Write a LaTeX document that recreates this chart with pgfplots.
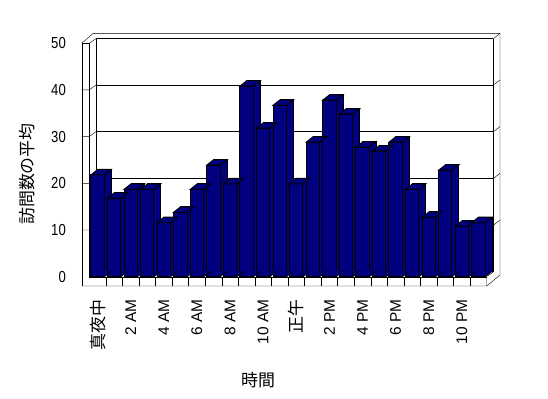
\documentclass[border=0pt]{standalone}
\usepackage{fontspec}
\setmainfont{Liberation Sans}
\newfontfamily\cjk{Noto Sans CJK JP}
\newfontfamily\narrowfont[FakeStretch=0.82]{Liberation Sans}
\usepackage{pgfplots}
\usepackage{pgfplotstable}
\pgfplotsset{compat=1.18}
\definecolor{barnavy}{RGB}{0,0,128}
\pgfdeclarelayer{background}
\pgfsetlayers{background,main}

% top face of a 3D column (drawn at the data point)
\pgfdeclareplotmark{topface}{%
  \pgfpathmoveto{\pgfpoint{-6.65bp}{0bp}}%
  \pgfpathlineto{\pgfpoint{6.65bp}{0bp}}%
  \pgfpathlineto{\pgfpoint{13.65bp}{5.5bp}}%
  \pgfpathlineto{\pgfpoint{0.35bp}{5.5bp}}%
  \pgfpathclose
  \pgfusepathqfillstroke
}
% lower part of the side face (drawn at the foot of the column)
\pgfdeclareplotmark{botface}{%
  \pgfpathmoveto{\pgfpoint{6.65bp}{0bp}}%
  \pgfpathlineto{\pgfpoint{6.65bp}{5.5bp}}%
  \pgfpathlineto{\pgfpoint{13.65bp}{5.5bp}}%
  \pgfpathclose
  \pgfusepathqfill
  \pgfpathmoveto{\pgfpoint{6.65bp}{0bp}}%
  \pgfpathlineto{\pgfpoint{13.65bp}{5.5bp}}%
  \pgfusepathqstroke
}

\pgfplotstableread{
x v z
0 21.8 0
1 16.8 0
2 18.7 0
3 18.7 0
4 11.6 0
5 13.8 0
6 18.7 0
7 23.9 0
8 19.9 0
9 40.8 0
10 31.8 0
11 36.7 0
12 19.9 0
13 28.8 0
14 37.8 0
15 34.8 0
16 27.7 0
17 26.9 0
18 28.8 0
19 18.7 0
20 12.7 0
21 22.8 0
22 10.8 0
23 11.6 0
}\datatable

\begin{document}
\begin{tikzpicture}[line width=1bp]
\begin{axis}[
  scale only axis, width=397.4bp, height=233.5bp,
  xmin=-0.5, xmax=23.5, ymin=0, ymax=50,
  clip=false,
  axis line style={draw=none},
  major tick length=0pt,
  ytick={0,10,20,30,40,50},
  xtick={0,2,...,22},
  xticklabels={{\cjk\fontsize{17}{18}\selectfont 真夜中},2 AM,4 AM,6 AM,8 AM,10 AM,{\cjk\fontsize{17}{18}\selectfont 正午},2 PM,4 PM,6 PM,8 PM,10 PM},
  ymajorgrids,
  grid style={black, line width=1bp, xshift=6.4bp, yshift=4.8bp},
  /pgf/number format/assume math mode=true,
  yticklabel style={font=\narrowfont\fontsize{16}{17}\selectfont},
  yticklabel shift=20bp,
  xticklabel style={font=\fontsize{15.5}{16}\selectfont, rotate=90, anchor=east},
  xticklabel shift=19.5bp,
  xlabel={\cjk 時間}, ylabel={\cjk 訪問数の平均},
  label style={font=\fontsize{17}{18}\selectfont},
  xlabel style={at={(axis description cs:0.4245,-0.4424)}, anchor=center},
  ylabel style={at={(axis description cs:-0.1568,0.4398)}, anchor=center},
]
\coordinate (O) at (rel axis cs:0,0);
\addplot[ybar, bar width=13.3bp, bar shift=7bp, yshift=5.5bp, fill=barnavy, draw=black, line width=1bp] table[x=x,y=v] {\datatable};
\addplot[only marks, mark=topface, mark options={fill=barnavy, draw=black, line width=1bp}] table[x=x,y=v] {\datatable};
\addplot[only marks, mark=botface, mark options={fill=barnavy, draw=black, line width=1bp}] table[x=x,y=z] {\datatable};
\addplot[ybar, bar width=13.3bp, bar shift=0bp, fill=barnavy, draw=black, line width=1bp] table[x=x,y=v] {\datatable};
\end{axis}
\begin{pgfonlayer}{background}
\begin{scope}[shift={(O)}, x=1bp, y=1bp, shift={(-89.3,-121.3)}]
\fill[white] (0,0) rectangle (548,398);
% left wall and back wall frame
\draw (81.7,112) -- (81.7,354.7) -- (89.3,354.7) -- (89.3,121.3);
\draw (81.7,354.7) -- (93.3,364.7) -- (500,364.7) -- (500,123);
\draw (89.3,354.7) -- (95.7,359.2);
\draw (95.7,359.2) -- (95.7,126.1);
\draw (493.3,359.2) -- (500,364.7);
\draw (493.3,359.2) -- (493.3,126.1);
\foreach \v in {10,20,30,40} {
  \draw (81.7,{121.3+4.67*\v}) -- (89.3,{121.3+4.67*\v}) -- (95.7,{126.1+4.67*\v});
  \draw (493.3,{126.1+4.67*\v}) -- (500,{131.3+4.67*\v});
}
% floor
\draw (81.7,112) -- (486.7,112) -- (500,123);
\draw (486.7,112) -- (486.7,121.3) -- (493.3,126.1);
\draw (89.3,121.3) -- (486.7,121.3);
\foreach \k in {1,...,23} \draw ({89.3+16.5583*\k},112) -- ({89.3+16.5583*\k},121.3);
\end{scope}
\end{pgfonlayer}
\pgfresetboundingbox
\path[use as bounding box, shift={(O)}, x=1bp, y=1bp, shift={(-89.3,-121.3)}] (0,0) rectangle (548,398);
\end{tikzpicture}
\end{document}
